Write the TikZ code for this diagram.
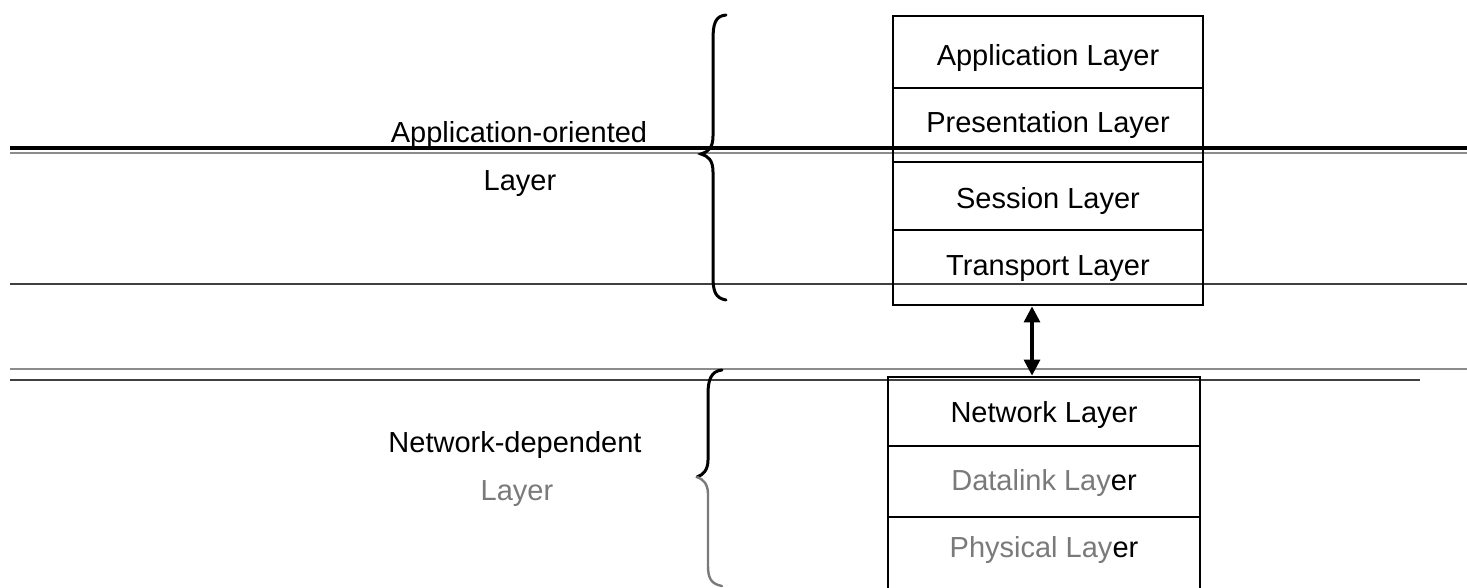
\documentclass[tikz,border=0pt]{standalone}
\usepackage{fontspec}
\setmainfont{Liberation Sans}
\usetikzlibrary{arrows.meta}

\definecolor{inkgray}{HTML}{7A7A7A}
\definecolor{rulegray}{HTML}{8C8C8C}

\tikzset{
  label/.style={font=\fontsize{29}{34}\selectfont, inner sep=0pt, anchor=base},
  faint/.style={label, text=inkgray},
  stackbox/.style={draw, line width=2.8pt, inner sep=0pt},
  divider/.style={line width=2.4pt},
  heavyrule/.style={line width=3.4pt},
  lightrule/.style={line width=1.8pt, rulegray},
  thinrule/.style={line width=1.6pt, black!75},
  bracepen/.style={line width=3pt, line cap=round},
  link/.style={line width=3.2pt, {Triangle[length=16pt,width=16pt]}-{Triangle[length=16pt,width=16pt]}}
}

\begin{document}
\begin{tikzpicture}[x=1pt,y=-1pt]
  \useasboundingbox (0,0) rectangle (1467,587);
  \clip (0,0) rectangle (1467,587);
  \fill[white] (0,0) rectangle (1467,587);

  % horizontal rules across the page
  \draw[heavyrule] (10,148) -- (1467,148);
  \draw[lightrule] (10,153) -- (1467,153);
  \draw[thinrule] (10,284) -- (1467,284);
  \draw[lightrule] (10,369) -- (1467,369);
  \draw[thinrule, line width=2pt] (10,380) -- (1420,380);

  % upper stack: application-oriented layers
  \node[stackbox, minimum width=310pt, minimum height=289pt] (upper) at (1048,160.5) {};
  \draw[divider] (upper.west |- 0,88) -- (upper.east |- 0,88);
  \draw[divider] (upper.west |- 0,149) -- (upper.east |- 0,149);
  \draw[divider] (upper.west |- 0,162) -- (upper.east |- 0,162);
  \draw[divider] (upper.west |- 0,230) -- (upper.east |- 0,230);
  \node[label] (app)   at (1048,65)  {Application Layer};
  \node[label] (pres)  at (1048,132) {Presentation Layer};
  \node[label] (sess)  at (1048,208) {Session Layer};
  \node[label] (trans) at (1048,275) {Transport Layer};

  % lower stack: network-dependent layers (runs off the bottom edge)
  \node[stackbox, minimum width=312pt, minimum height=240pt] (lower) at (1044,497) {};
  \draw[divider] (lower.west |- 0,446) -- (lower.east |- 0,446);
  \draw[divider] (lower.west |- 0,517) -- (lower.east |- 0,517);
  \node[label] (net)  at (1044,422) {Network Layer};
  \node[faint] (dl)   at (1044,490) {Datalink Lay\textcolor{black}{er}};
  \node[faint] (phys) at (1044,557) {Physical Lay\textcolor{black}{er}};

  % two-way link between the stacks
  \coordinate (ax) at (1032,0);
  \draw[link] (upper.south -| ax) -- (lower.north -| ax);

  % group labels
  \node[label] (aotitle) at (519,142) {Application-oriented};
  \node[label] (aolayer) at (520,190) {Layer};
  \node[label] (ndtitle) at (515,452) {Network-dependent};
  \node[faint] (ndlayer) at (517,500) {Layer};

  % curly braces
  \draw[bracepen] (726,15) .. controls (715,16) and (713,24) .. (713,40)
    -- (713,136) .. controls (713,148) and (708,152) .. (701,154)
    .. controls (708,156) and (713,160) .. (713,172)
    -- (713,276) .. controls (713,291) and (715,298) .. (726,300);
  \draw[bracepen] (722,370) .. controls (711,371) and (708,380) .. (708,394)
    -- (708,460) .. controls (708,470) and (703,475) .. (697,477);
  \draw[bracepen, inkgray, line width=2.4pt] (697,477)
    .. controls (703,479) and (708,484) .. (708,494)
    -- (708,566) .. controls (708,578) and (711,584) .. (722,586);
\end{tikzpicture}
\end{document}
